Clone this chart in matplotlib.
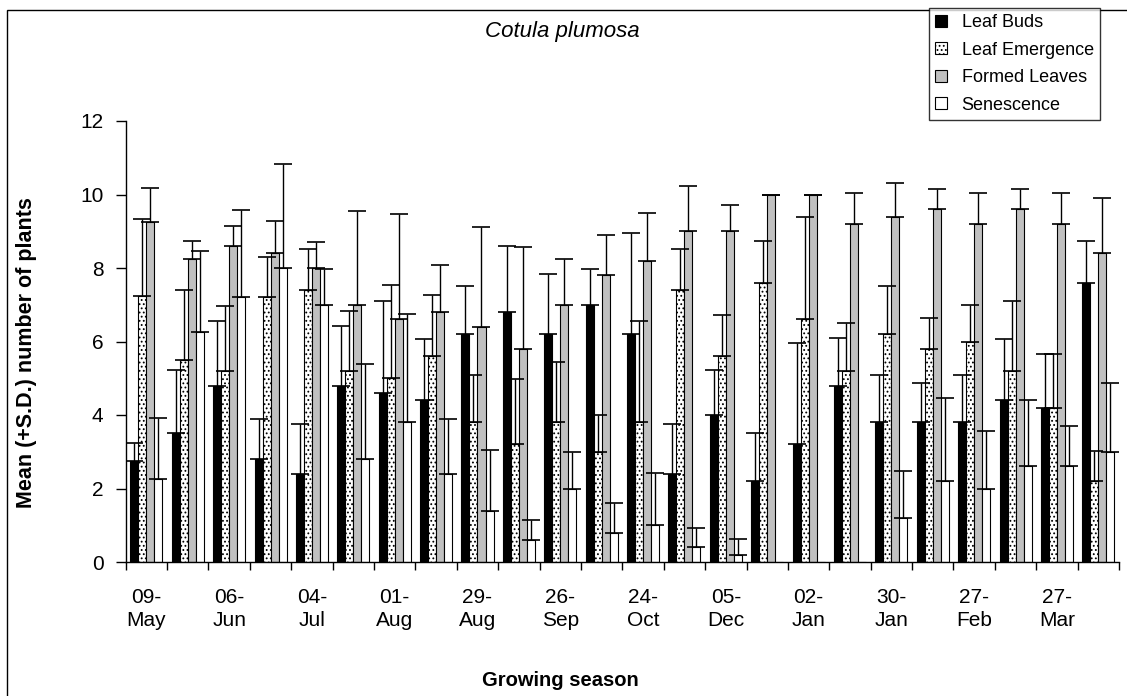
import numpy as np
import matplotlib
matplotlib.use("Agg")
import matplotlib.pyplot as plt
from matplotlib.patches import Rectangle, Patch

plt.rcParams['font.family'] = ['Liberation Sans', 'DejaVu Sans']
plt.rcParams['hatch.linewidth'] = 0.8

# ---- data ----
date_labels = ["09-\nMay", "06-\nJun", "04-\nJul", "01-\nAug", "29-\nAug", "26-\nSep",
               "24-\nOct", "05-\nDec", "02-\nJan", "30-\nJan", "27-\nFeb", "27-\nMar"]
n_groups = 24

leaf_buds = [2.75, 3.5, 4.8, 2.8, 2.4, 4.8, 4.6, 4.4, 6.2, 6.8, 6.2, 7.0,
             6.2, 2.4, 4.0, 2.2, 3.2, 4.8, 3.8, 3.8, 3.8, 4.4, 4.2, 7.6]
leaf_buds_sd = [0.49, 1.73, 1.77, 1.1, 1.36, 1.63, 2.51, 1.66, 1.31, 1.8, 1.64, 0.97,
                2.75, 1.35, 1.23, 1.3, 2.76, 1.29, 1.29, 1.07, 1.29, 1.67, 1.47, 1.14]

leaf_emergence = [7.25, 5.5, 5.2, 7.2, 7.4, 5.2, 5.0, 5.6, 3.8, 3.2, 3.8, 3.0,
                  3.8, 7.4, 5.6, 7.6, 6.6, 5.2, 6.2, 5.8, 6.0, 5.2, 4.2, 2.2]
leaf_emergence_sd = [2.08, 1.91, 1.77, 1.11, 1.13, 1.63, 2.55, 1.66, 1.28, 1.78, 1.64, 1.0,
                     2.77, 1.12, 1.11, 1.14, 2.79, 1.29, 1.31, 0.84, 1.0, 1.91, 1.47, 0.81]

formed_leaves = [9.25, 8.25, 8.6, 8.4, 8.0, 7.0, 6.6, 6.8, 6.4, 5.8, 7.0, 7.8,
                 8.2, 9.0, 9.0, 10.0, 10.0, 9.2, 9.4, 9.6, 9.2, 9.6, 9.2, 8.4]
formed_leaves_sd = [0.94, 0.49, 0.55, 0.89, 0.7, 2.54, 2.87, 1.28, 2.71, 2.76, 1.24, 1.09,
                    1.3, 1.23, 0.72, 0.0, 0.0, 0.84, 0.9, 0.54, 0.84, 0.54, 0.84, 1.5]

senescence = [2.25, 6.25, 7.2, 8.0, 7.0, 2.8, 3.8, 2.4, 1.4, 0.6, 2.0, 0.8,
              1.0, 0.4, 0.2, 0.0, 0.0, 0.0, 1.2, 2.2, 2.0, 2.6, 2.6, 3.0]
senescence_sd = [1.68, 2.21, 2.39, 2.84, 0.97, 2.58, 2.95, 1.49, 1.65, 0.53, 0.99, 0.81,
                 1.41, 0.53, 0.43, 0.0, 0.0, 0.0, 1.28, 2.27, 1.56, 1.8, 1.11, 1.87]

series_names = ["Leaf Buds", "Leaf Emergence", "Formed Leaves", "Senescence"]

# ---- figure ----
W, H = 1127, 696
fig = plt.figure(figsize=(W / 100, H / 100), dpi=100)
ax = fig.add_axes([125.7 / W, 1 - 562 / H, (1119 - 125.7) / W, (562 - 121) / H])

# chart area border
fig.patches.append(Rectangle((7 / W, -0.1), 1.2, (1 - 10 / H) + 0.1, transform=fig.transFigure,
                             fill=False, edgecolor='black', linewidth=1.0, zorder=0))

x = np.arange(n_groups) + 0.5
bw = 0.1935
series = [
    (leaf_buds, leaf_buds_sd, dict(color='black', hatch=None)),
    (leaf_emergence, leaf_emergence_sd, dict(color='white', hatch='....')),
    (formed_leaves, formed_leaves_sd, dict(color='#c0c0c0', hatch=None)),
    (senescence, senescence_sd, dict(color='white', hatch=None)),
]
handles = []
for k, (vals, sds, st) in enumerate(series):
    vals = np.array(vals, dtype=float)
    sds = np.array(sds, dtype=float)
    xs = x + (k - 1.5) * bw
    ax.bar(xs, vals, width=bw, color=st['color'], edgecolor='black', linewidth=0.8,
           hatch=st['hatch'], zorder=2)
    mask = (vals + sds) > 0
    ax.errorbar(xs[mask], vals[mask], yerr=[np.zeros(mask.sum()), sds[mask]], fmt='none',
                ecolor='black', elinewidth=1.0, capsize=6.5, capthick=1.2, zorder=3)
    handles.append(Patch(facecolor=st['color'], edgecolor='black', linewidth=0.8,
                         hatch=st['hatch'], label=series_names[k]))

ax.set_xlim(0, n_groups)
ax.set_ylim(0, 12)
for s in ['top', 'right']:
    ax.spines[s].set_visible(False)
ax.spines['left'].set_linewidth(1.0)
ax.spines['bottom'].set_linewidth(1.0)

ax.set_yticks(np.arange(0, 13, 2))
ax.tick_params(axis='y', direction='out', length=7, width=1.0, labelsize=15, pad=9)

ax.set_xticks(np.arange(0, n_groups + 1), minor=True)
ax.set_xticks(x[::2])
ax.set_xticklabels(date_labels, fontsize=15, linespacing=1.25)
ax.tick_params(axis='x', which='major', length=0, pad=19)
ax.tick_params(axis='x', which='minor', direction='out', length=6, width=1.0)

fig.text(562 / W, 1 - 31 / H, "Cotula plumosa", ha='center', va='center',
         fontsize=16, style='italic')
fig.text(27 / W, 1 - 353 / H, "Mean (+S.D.) number of plants", rotation=90,
         ha='center', va='center', fontsize=15.5, fontweight='bold')
fig.text(560 / W, 1 - 680 / H, "Growing season", ha='center', va='center',
         fontsize=14.5, fontweight='bold')

leg = fig.legend(handles=handles, loc='upper left', bbox_to_anchor=(929 / W, 1 - 8 / H),
                 fontsize=13, frameon=True, fancybox=False, handlelength=0.65,
                 handleheight=0.65, handletextpad=0.8, labelspacing=0.58, borderpad=0.35,
                 borderaxespad=0)
leg.get_frame().set_edgecolor('black')
leg.get_frame().set_linewidth(1.0)

fig.savefig("out.png", dpi=100)
